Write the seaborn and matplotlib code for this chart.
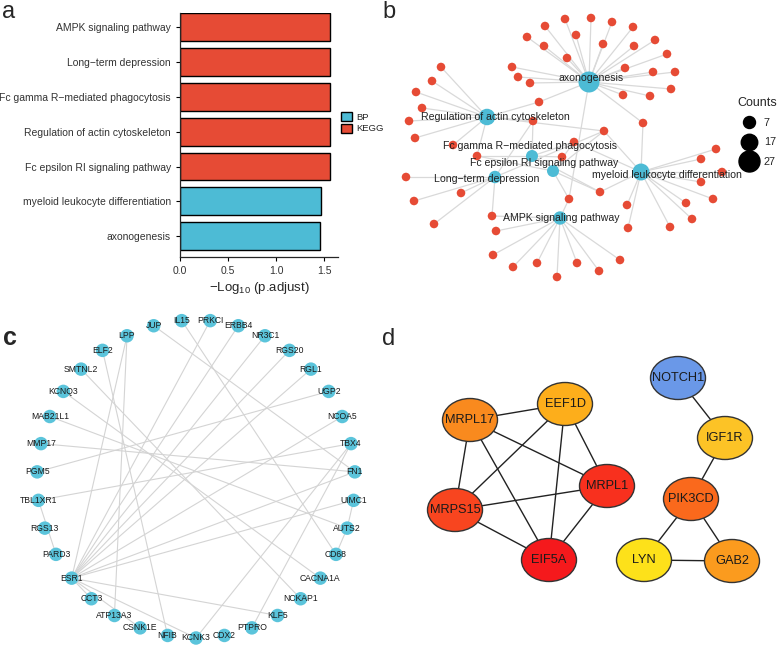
import numpy as np
import pandas as pd
import seaborn as sns
import matplotlib.pyplot as plt
from matplotlib.patches import Ellipse, Patch
from matplotlib.lines import Line2D

sns.set_style("ticks")
plt.rcParams['font.family'] = ['Liberation Sans', 'DejaVu Sans']
plt.rcParams['mathtext.fontset'] = 'custom'
plt.rcParams['mathtext.rm'] = 'Liberation Sans'
plt.rcParams['mathtext.default'] = 'regular'

W, H = 777, 646
RED = "#E64B35"
BLUE = "#4DBBD5"

# ---------- data ----------
# a: enrichment bars
terms = ["AMPK signaling pathway", "Long\u2212term depression",
         "Fc gamma R\u2212mediated phagocytosis", "Regulation of actin cytoskeleton",
         "Fc epsilon RI signaling pathway", "myeloid leukocyte differentiation",
         "axonogenesis"]
logp = [1.565, 1.565, 1.565, 1.565, 1.565, 1.465, 1.46]
term_type = ["KEGG", "KEGG", "KEGG", "KEGG", "KEGG", "BP", "BP"]

# b: gene-concept network (layout)
cat_names = ["AMPK signaling pathway", "Long\u2212term depression",
             "Fc gamma R\u2212mediated phagocytosis", "Regulation of actin cytoskeleton",
             "Fc epsilon RI signaling pathway", "myeloid leukocyte differentiation",
             "axonogenesis"]
cat_counts = [10, 8, 7, 17, 7, 18, 27]
cat_x = [560, 495, 532, 487, 553, 641, 589]
cat_y = [218, 177, 156, 117, 171, 172, 82]
lab_x = [561, 487, 530, 495, 544, 667, 591]
lab_y = [218, 179, 146, 117, 163, 175, 78]
gene_x = [565, 591, 612, 633, 545, 576, 527, 544, 603, 634, 655, 667, 567, 625, 653,
          675, 671, 650, 623, 530, 518, 512, 539,
          441, 432, 416, 422, 409, 415, 453, 477, 533,
          574, 562, 604, 600, 569,
          406, 461, 414, 434, 492, 496,
          643, 716, 701, 722, 701, 713, 686, 692, 670, 627, 628,
          493, 513, 537, 557, 577, 599, 620]
gene_y = [19, 18, 22, 27, 26, 35, 37, 46, 44, 46, 40, 54, 58, 68, 72,
          72, 89, 96, 95, 83, 77, 67, 102,
          67, 81, 92, 108, 121, 138, 145, 156, 121,
          142, 157, 131, 192, 199,
          177, 193, 201, 224, 216, 231,
          123, 149, 159, 172, 182, 199, 203, 219, 227, 205, 228,
          255, 267, 263, 277, 263, 271, 260]
gene_links = ([[6]] * 22 + [[6, 3]]
              + [[3]] * 7 + [[3, 2, 4]] + [[3, 2, 1]]
              + [[2, 4, 5], [2, 4], [3, 4, 5, 1], [4, 5, 2], [6, 4, 0]]
              + [[1]] * 4 + [[1, 0], [0]]
              + [[5, 6]] + [[5]] * 10
              + [[0]] * 7)

# c: PPI circle
circ_genes = ["KCNK3", "NFIB", "CSNK1E", "ATP13A3", "CCT3", "ESR1", "PARD3", "RGS13",
              "TBL1XR1", "PGM5", "MMP17", "MAB21L1", "KCNQ3", "SMTNL2", "ELF2", "LPP",
              "JUP", "IL15", "PRKCI", "ERBB4", "NR3C1", "RGS20", "RGL1", "UGP2",
              "NCOA5", "TBX4", "FN1", "UIMC1", "AUTS2", "CD68", "CACNA1A", "NCKAP1",
              "KLF5", "PTPRO", "CDX2"]
circ_edges = [("ESR1", "LPP"), ("ESR1", "PRKCI"), ("ESR1", "ERBB4"), ("ESR1", "NR3C1"),
              ("ESR1", "RGL1"), ("ESR1", "NCOA5"), ("ESR1", "FN1"), ("ESR1", "UIMC1"),
              ("ESR1", "KLF5"), ("ESR1", "CSNK1E"), ("ESR1", "KCNK3"), ("ESR1", "RGS20"),
              ("ESR1", "CCT3"), ("LPP", "ATP13A3"), ("ELF2", "NFIB"), ("SMTNL2", "NCKAP1"),
              ("KCNQ3", "CACNA1A"), ("MAB21L1", "AUTS2"), ("MMP17", "FN1"), ("PGM5", "UGP2"),
              ("TBL1XR1", "TBX4"), ("TBL1XR1", "PARD3"), ("JUP", "FN1"), ("IL15", "CD68"),
              ("TBX4", "PTPRO"), ("TBX4", "KCNK3"), ("UIMC1", "AUTS2"), ("AUTS2", "CD68")]

# d: hub gene modules
hub_genes = ["NOTCH1", "EEF1D", "MRPL17", "IGF1R", "MRPL1", "PIK3CD", "MRPS15",
             "EIF5A", "LYN", "GAB2"]
hub_x = [678, 565, 470, 725, 607, 691, 455, 549, 644, 732]
hub_y = [378, 404, 420, 438, 486, 499, 510, 560, 560, 561]
hub_color = ["#6A98E8", "#FDAE1B", "#F98A1E", "#FCC326", "#F8301E", "#FA691C",
             "#F8451F", "#F5191C", "#FDE11A", "#FB9B1E"]
hub_edges = [("MRPL17", "EEF1D"), ("MRPL17", "MRPL1"), ("MRPL17", "MRPS15"),
             ("MRPL17", "EIF5A"), ("EEF1D", "MRPS15"), ("EEF1D", "EIF5A"),
             ("EEF1D", "MRPL1"), ("MRPS15", "MRPL1"), ("MRPS15", "EIF5A"),
             ("MRPL1", "EIF5A"), ("NOTCH1", "IGF1R"), ("IGF1R", "PIK3CD"),
             ("PIK3CD", "LYN"), ("PIK3CD", "GAB2"), ("LYN", "GAB2")]

fig = plt.figure(figsize=(W / 100, H / 100), dpi=100)


def px_axes(x0, y0, w, h):
    ax = fig.add_axes([x0 / W, 1 - (y0 + h) / H, w / W, h / H])
    ax.set_xlim(x0, x0 + w)
    ax.set_ylim(y0 + h, y0)
    ax.axis("off")
    return ax


# ---------- a ----------
ax_a = fig.add_axes([180 / W, 1 - 257 / H, 158 / W, 244 / H])
df_a = pd.DataFrame({"term": terms, "value": logp, "type": term_type})
sns.barplot(data=df_a, y="term", x="value", hue="type", hue_order=["BP", "KEGG"],
            palette={"BP": BLUE, "KEGG": RED}, dodge=False, edgecolor="black",
            linewidth=1, width=0.8, saturation=1, ax=ax_a, orient="h")
ax_a.set_xlim(0, 1.646)
ax_a.set_ylim(6.6, -0.41)
ax_a.set_xticks([0, 0.5, 1.0, 1.5])
ax_a.set_xticklabels(["0.0", "0.5", "1.0", "1.5"])
ax_a.set_ylabel("")
ax_a.set_xlabel("\u2212Log$_{10}$ (p.adjust)", fontsize=9.5, labelpad=3)
ax_a.tick_params(axis="both", labelsize=7.5, colors="#333333", length=3, width=0.8)
ax_a.tick_params(axis="both", color="black")
for s in ["top", "right"]:
    ax_a.spines[s].set_visible(False)
for s in ["left", "bottom"]:
    ax_a.spines[s].set_linewidth(0.9)
ax_a.legend(handles=[Patch(facecolor=BLUE, edgecolor="black", label="BP"),
                     Patch(facecolor=RED, edgecolor="black", label="KEGG")],
            loc="center left", bbox_to_anchor=(1.02, 0.55), frameon=False,
            fontsize=6.8, handlelength=1.1, handleheight=1.1, handletextpad=0.5,
            labelspacing=0.15, borderaxespad=0, borderpad=0)

# ---------- b ----------
ax_b = px_axes(380, 0, 397, 300)
for gx, gy, links in zip(gene_x, gene_y, gene_links):
    for c in links:
        ax_b.plot([gx, cat_x[c]], [gy, cat_y[c]], color="#d9d9d9", lw=0.9, zorder=1)
sns.scatterplot(x=gene_x, y=gene_y, color=RED, s=38, edgecolor="none", ax=ax_b,
                zorder=2, legend=False)
diam = [12 + (n - 7) * 0.45 for n in cat_counts]
sns.scatterplot(x=cat_x, y=cat_y, color=BLUE, s=[(d * 0.72) ** 2 for d in diam],
                edgecolor="none", ax=ax_b, zorder=3, legend=False)
for name, tx, ty in zip(cat_names, lab_x, lab_y):
    ax_b.text(tx, ty, name, fontsize=7.6, ha="center", va="center", color="#222222",
              zorder=4)
cnt_handles = [Line2D([], [], marker="o", ls="", color="black",
                      markersize=(12 + (n - 7) * 0.45) * 0.72, label=str(n))
               for n in [7, 17, 27]]
ax_b.legend(handles=cnt_handles, title="Counts", loc="upper left",
            bbox_to_anchor=(737 / W, 1 - 97 / H), bbox_transform=fig.transFigure,
            frameon=False, fontsize=7.8, title_fontsize=9, handletextpad=0.4,
            labelspacing=0.85, borderpad=0, borderaxespad=0)
fig.text(382 / W, 1 - 18 / H, "b", fontsize=17)

# ---------- c ----------
ax_c = px_axes(0, 300, 390, 346)
cx, cy, r = 196, 479, 159
theta = np.arange(len(circ_genes)) * 2 * np.pi / len(circ_genes)
pos_x = cx - r * np.sin(theta)
pos_y = cy + r * np.cos(theta)
idx = {g: i for i, g in enumerate(circ_genes)}
for a, b in circ_edges:
    ax_c.plot([pos_x[idx[a]], pos_x[idx[b]]], [pos_y[idx[a]], pos_y[idx[b]]],
              color="#d4d4d4", lw=0.8, zorder=1)
sns.scatterplot(x=pos_x, y=pos_y, color="#5BC4DB", s=(13.5 * 0.72) ** 2,
                edgecolor="none", ax=ax_c, zorder=2, legend=False)
for g, px_, py_ in zip(circ_genes, pos_x, pos_y):
    ax_c.text(px_, py_, g, fontsize=6.2, ha="center", va="center", color="#1a1a1a",
              zorder=3)
fig.text(3 / W, 1 - 345 / H, "c", fontsize=18, fontweight="bold")

# ---------- d ----------
ax_d = px_axes(380, 300, 397, 346)
hidx = {g: i for i, g in enumerate(hub_genes)}
for a, b in hub_edges:
    ax_d.plot([hub_x[hidx[a]], hub_x[hidx[b]]], [hub_y[hidx[a]], hub_y[hidx[b]]],
              color="#222222", lw=1.0, zorder=1)
for g, hx, hy, col in zip(hub_genes, hub_x, hub_y, hub_color):
    ax_d.add_patch(Ellipse((hx, hy), 55, 43, facecolor=col, edgecolor="#333333",
                           lw=1.0, zorder=2))
    ax_d.text(hx, hy, g, fontsize=9.2, ha="center", va="center", color="#1a1a1a",
              zorder=3)
fig.text(382 / W, 1 - 345 / H, "d", fontsize=17)

fig.text(2 / W, 1 - 18 / H, "a", fontsize=17)

fig.savefig("out.png", dpi=100)
